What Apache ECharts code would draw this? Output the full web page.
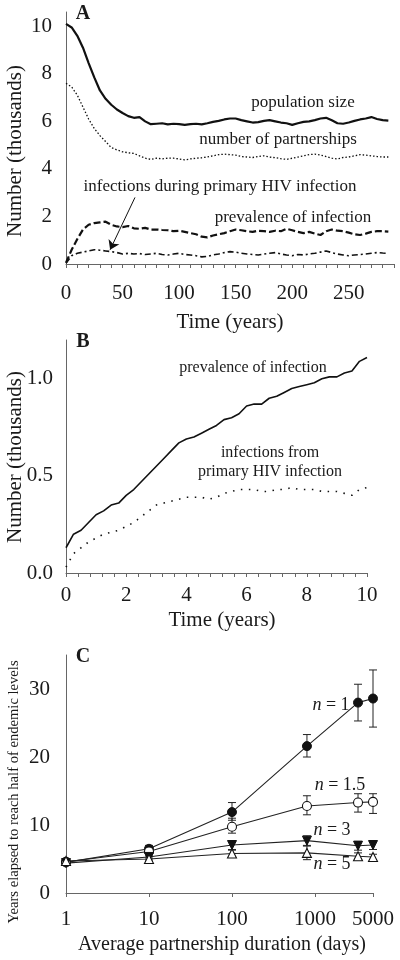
<!DOCTYPE html>
<html>
<head>
<meta charset="utf-8">
<script src="https://cdn.jsdelivr.net/npm/echarts@6/dist/echarts.min.js"></script>
<style>html,body{margin:0;padding:0;background:#fff}#c{width:400px;height:960px}</style>
</head>
<body>
<div id="c"></div>
<script>
// ---------- Panel A data (time in years, values in thousands) ----------
var timeA = [0,5,10,15,20,25,30,35,40,45,50,55,60,65,70,75,80,85,90,95,100,105,110,115,120,125,130,135,140,145,150,155,160,165,170,175,180,185,190,195,200,205,210,215,220,225,230,235,240,245,250,255,260,265,270,275,280,285];
var popSize = [10.1,9.95,9.6,9.1,8.45,7.85,7.3,6.95,6.7,6.5,6.35,6.22,6.15,6.18,6.0,5.88,5.9,5.92,5.87,5.9,5.88,5.85,5.88,5.9,5.87,5.92,5.98,6.02,6.08,6.12,6.12,6.05,6.0,5.95,5.97,6.02,6.05,6.0,5.95,5.92,5.85,5.92,5.98,6.0,6.05,6.12,6.15,6.05,5.92,5.9,5.95,6.02,6.08,6.12,6.18,6.1,6.05,6.03];
var partnerships = [7.6,7.45,7.1,6.6,6.1,5.7,5.4,5.15,4.9,4.8,4.72,4.68,4.65,4.55,4.45,4.4,4.45,4.42,4.45,4.45,4.42,4.38,4.42,4.45,4.47,4.5,4.55,4.6,4.62,4.6,4.58,4.52,4.5,4.48,4.52,4.55,4.5,4.47,4.43,4.4,4.45,4.5,4.55,4.6,4.62,4.58,4.52,4.45,4.42,4.48,4.5,4.55,4.6,4.58,4.55,4.52,4.5,4.5];
var prevalenceA = [0.05,0.6,1.05,1.45,1.65,1.72,1.75,1.78,1.65,1.58,1.55,1.6,1.5,1.48,1.52,1.45,1.45,1.43,1.42,1.38,1.4,1.35,1.3,1.25,1.15,1.12,1.2,1.25,1.3,1.38,1.45,1.42,1.38,1.35,1.4,1.38,1.35,1.4,1.38,1.48,1.42,1.35,1.3,1.35,1.28,1.22,1.38,1.45,1.4,1.38,1.32,1.25,1.22,1.28,1.35,1.38,1.38,1.36];
var primaryA = [0.03,0.35,0.45,0.5,0.55,0.6,0.58,0.55,0.52,0.48,0.42,0.45,0.42,0.44,0.4,0.42,0.45,0.4,0.38,0.42,0.45,0.4,0.38,0.35,0.3,0.32,0.38,0.42,0.48,0.52,0.5,0.45,0.42,0.4,0.38,0.42,0.45,0.48,0.42,0.38,0.35,0.4,0.38,0.42,0.45,0.5,0.55,0.48,0.42,0.38,0.35,0.38,0.4,0.42,0.45,0.48,0.46,0.45];
var arrowFrom = [61, 2.8];
var arrowTo = [39, 0.6];

// ---------- Panel B data ----------
var timeB = [0,0.25,0.5,0.75,1,1.25,1.5,1.75,2,2.25,2.5,2.75,3,3.25,3.5,3.75,4,4.25,4.5,4.75,5,5.25,5.5,5.75,6,6.25,6.5,6.75,7,7.25,7.5,7.75,8,8.25,8.5,8.75,9,9.25,9.5,9.75,10];
var prevalenceB = [0.13,0.2,0.22,0.26,0.3,0.32,0.35,0.36,0.4,0.43,0.47,0.51,0.55,0.59,0.63,0.67,0.69,0.7,0.72,0.74,0.76,0.79,0.8,0.82,0.86,0.87,0.87,0.9,0.91,0.93,0.95,0.96,0.97,0.98,1.0,1.01,1.01,1.03,1.04,1.09,1.11];
var primaryB = [0.03,0.1,0.13,0.16,0.18,0.2,0.21,0.22,0.24,0.26,0.29,0.32,0.35,0.36,0.37,0.38,0.39,0.39,0.39,0.38,0.39,0.41,0.42,0.43,0.43,0.43,0.42,0.42,0.43,0.43,0.44,0.43,0.43,0.43,0.42,0.42,0.42,0.41,0.4,0.43,0.44];

// ---------- Panel C data ----------
var durations = [1,10,100,800,3300,5000];
var yrsN1 = [4.5,6.5,11.9,21.6,28.0,28.6];
var lowN1 = [4.2,6.0,10.7,20.0,25.3,24.4];
var highN1 = [4.9,7.0,13.3,23.3,30.7,32.8];
var yrsN15 = [4.6,6.1,9.75,12.8,13.3,13.4];
var lowN15 = [4.3,5.6,8.8,11.5,11.9,11.7];
var highN15 = [4.9,6.6,11.0,14.3,14.6,14.6];
var yrsN3 = [4.4,5.3,7.05,7.7,6.95,7.05];
var lowN3 = [4.1,5.0,6.4,7.0,6.3,6.4];
var highN3 = [4.7,5.6,7.7,8.4,7.6,7.7];
var yrsN5 = [4.7,5.0,5.8,5.9,5.4,5.3];
var lowN5 = [4.4,4.7,5.3,4.9,4.9,4.9];
var highN5 = [5.0,5.3,6.3,6.9,5.9,5.7];

// ---------- build ----------
function pairs(xs, ys){ return xs.map(function(x,i){ return [x, ys[i]]; }); }
function triples(xs, lo, hi){ return xs.map(function(x,i){ return [x, lo[i], hi[i]]; }); }

var FONT = '"Liberation Serif", "Times New Roman", serif';
var AXC = '#666';
var TXT = '#1a1a1a';

function errSeries(xi, yi, lo, hi){
  return {
    type: 'custom', xAxisIndex: xi, yAxisIndex: yi, z: 2,
    data: triples(durations, lo, hi),
    renderItem: function(params, api){
      var x = api.value(0);
      var p1 = api.coord([x, api.value(1)]);
      var p2 = api.coord([x, api.value(2)]);
      var w = 4;
      var st = {stroke: '#222', lineWidth: 1};
      return {type: 'group', children: [
        {type: 'line', shape: {x1: p1[0], y1: p1[1], x2: p2[0], y2: p2[1]}, style: st},
        {type: 'line', shape: {x1: p1[0]-w, y1: p1[1], x2: p1[0]+w, y2: p1[1]}, style: st},
        {type: 'line', shape: {x1: p2[0]-w, y1: p2[1], x2: p2[0]+w, y2: p2[1]}, style: st}
      ]};
    }
  };
}

function txt(x, y, s, size, opts){
  opts = opts || {};
  var o = {
    type: 'text', x: x, y: y, rotation: opts.rot || 0, z: 10,
    style: {text: s, font: (opts.weight || 'normal') + ' ' + size + 'px ' + FONT, fill: TXT,
      align: opts.align || 'center', verticalAlign: 'middle'}
  };
  if (opts.rich) o.style.rich = opts.rich;
  return o;
}
var richN = {i: {fontStyle: 'italic', fontFamily: FONT, fontSize: 18, fill: TXT}};
var nFont = 18;

var chart = echarts.init(document.getElementById('c'), null, {renderer: 'canvas'});
var option = {
  animation: false,
  backgroundColor: '#fff',
  grid: [
    {left: 66, top: 12, width: 328, height: 252},
    {left: 66, top: 340, width: 301, height: 233},
    {left: 66, top: 655, width: 307, height: 238}
  ],
  xAxis: [
    {gridIndex: 0, type: 'value', min: 0, max: 290, interval: 10,
      axisLine: {lineStyle: {color: AXC}}, axisTick: {show: true, length: 4, lineStyle: {color: AXC}},
      splitLine: {show: false},
      axisLabel: {color: TXT, fontFamily: FONT, fontSize: 21, margin: 19,
        formatter: function(v){ return (Math.round(v) % 50 === 0 && v < 290) ? String(v) : ''; }}},
    {gridIndex: 1, type: 'value', min: 0, max: 10, interval: 0.4,
      axisLine: {lineStyle: {color: AXC}}, axisTick: {show: true, length: 4, lineStyle: {color: AXC}},
      splitLine: {show: false},
      axisLabel: {color: TXT, fontFamily: FONT, fontSize: 21, margin: 12,
        formatter: function(v){ return Math.abs(v/2 - Math.round(v/2)) < 1e-6 ? String(Math.round(v)) : ''; }}},
    {gridIndex: 2, type: 'log', logBase: 10, min: 1, max: 5000,
      axisLine: {lineStyle: {color: AXC}}, axisTick: {show: true, length: 4, lineStyle: {color: AXC}},
      splitLine: {show: false}, minorTick: {show: false},
      axisLabel: {color: TXT, fontFamily: FONT, fontSize: 21, margin: 16, showMaxLabel: true, showMinLabel: true,
        formatter: function(v){ return String(Math.round(v)); }}}
  ],
  yAxis: [
    {gridIndex: 0, type: 'value', min: 0, max: 10.6, interval: 2,
      axisLine: {show: true, lineStyle: {color: AXC}}, axisTick: {show: false}, splitLine: {show: false},
      axisLabel: {color: TXT, fontFamily: FONT, fontSize: 21, margin: 14,
        formatter: function(v){ return (Math.abs(v/2 - Math.round(v/2)) < 1e-6) ? String(v) : ''; }}},
    {gridIndex: 1, type: 'value', min: 0, max: 1.2, interval: 0.5,
      axisLine: {show: true, lineStyle: {color: AXC}}, axisTick: {show: false}, splitLine: {show: false},
      axisLabel: {color: TXT, fontFamily: FONT, fontSize: 21, margin: 13,
        formatter: function(v){ return (Math.abs(v*2 - Math.round(v*2)) < 1e-6) ? v.toFixed(1) : ''; }}},
    {gridIndex: 2, type: 'value', min: 0, max: 35, interval: 10,
      axisLine: {show: true, lineStyle: {color: AXC}}, axisTick: {show: false}, splitLine: {show: false},
      axisLabel: {color: TXT, fontFamily: FONT, fontSize: 21, margin: 16,
        formatter: function(v){ return (Math.round(v) % 10 === 0 && v < 35) ? String(v) : ''; }}}
  ],
  series: [
    {type: 'line', xAxisIndex: 0, yAxisIndex: 0, showSymbol: false, data: pairs(timeA, popSize),
      lineStyle: {color: '#111', width: 2.2}},
    {type: 'line', xAxisIndex: 0, yAxisIndex: 0, showSymbol: false, data: pairs(timeA, partnerships),
      lineStyle: {color: '#111', width: 1.3, type: [1.5, 2]}},
    {type: 'line', xAxisIndex: 0, yAxisIndex: 0, showSymbol: false, data: pairs(timeA, prevalenceA),
      lineStyle: {color: '#111', width: 2.2, type: [7, 3]}},
    {type: 'line', xAxisIndex: 0, yAxisIndex: 0, showSymbol: false, data: pairs(timeA, primaryA),
      lineStyle: {color: '#111', width: 1.6, type: [6, 3, 2, 3]},
      markLine: {silent: true, symbol: ['none', 'arrow'], symbolSize: 9, label: {show: false},
        lineStyle: {color: '#111', width: 1, type: 'solid'},
        data: [[{coord: arrowFrom}, {coord: arrowTo}]]}},
    {type: 'line', xAxisIndex: 1, yAxisIndex: 1, showSymbol: false, data: pairs(timeB, prevalenceB),
      lineStyle: {color: '#111', width: 1.6}},
    {type: 'line', xAxisIndex: 1, yAxisIndex: 1, showSymbol: false, data: pairs(timeB, primaryB),
      lineStyle: {color: '#111', width: 1.6, type: [1.5, 6.5]}},
    errSeries(2, 2, lowN1, highN1),
    errSeries(2, 2, lowN15, highN15),
    errSeries(2, 2, lowN3, highN3),
    errSeries(2, 2, lowN5, highN5),
    {type: 'line', xAxisIndex: 2, yAxisIndex: 2, z: 3, data: pairs(durations, yrsN1),
      symbol: 'circle', symbolSize: 9, itemStyle: {color: '#111', borderColor: '#111', borderWidth: 1},
      lineStyle: {color: '#222', width: 1.1}},
    {type: 'line', xAxisIndex: 2, yAxisIndex: 2, z: 3, data: pairs(durations, yrsN15),
      symbol: 'circle', symbolSize: 9, itemStyle: {color: '#fff', borderColor: '#111', borderWidth: 1.1},
      lineStyle: {color: '#222', width: 1.1}},
    {type: 'line', xAxisIndex: 2, yAxisIndex: 2, z: 3, data: pairs(durations, yrsN3),
      symbol: 'triangle', symbolRotate: 180, symbolSize: 9, itemStyle: {color: '#111', borderColor: '#111', borderWidth: 1},
      lineStyle: {color: '#222', width: 1.1}},
    {type: 'line', xAxisIndex: 2, yAxisIndex: 2, z: 3, data: pairs(durations, yrsN5),
      symbol: 'triangle', symbolSize: 9, itemStyle: {color: '#fff', borderColor: '#111', borderWidth: 1.1},
      lineStyle: {color: '#222', width: 1.1}}
  ],
  graphic: [
    txt(83, 14, 'A', 20, {weight: 'bold'}),
    txt(83, 342, 'B', 20, {weight: 'bold'}),
    txt(83, 657, 'C', 20, {weight: 'bold'}),
    txt(15, 151, 'Number (thousands)', 21, {rot: Math.PI/2}),
    txt(230, 322, 'Time (years)', 21),
    txt(303, 103, 'population size', 17),
    txt(278, 140, 'number of partnerships', 17),
    txt(220, 187, 'infections during primary HIV infection', 17),
    txt(293, 218, 'prevalence of infection', 17),
    txt(15, 457, 'Number (thousands)', 21, {rot: Math.PI/2}),
    txt(222, 620, 'Time (years)', 21),
    txt(253, 368, 'prevalence of infection', 16),
    txt(270, 453, 'infections from', 16),
    txt(270, 472, 'primary HIV infection', 16),
    txt(14, 792, 'Years elapsed to reach half of endemic levels', 14.6, {rot: Math.PI/2}),
    txt(222, 945, 'Average partnership duration (days)', 20),
    txt(331, 705, '{i|n} = 1', nFont, {rich: richN}),
    txt(340, 785, '{i|n} = 1.5', nFont, {rich: richN}),
    txt(332, 830, '{i|n} = 3', nFont, {rich: richN}),
    txt(332, 864, '{i|n} = 5', nFont, {rich: richN})
  ]
};
chart.setOption(option);
</script>
</body>
</html>
